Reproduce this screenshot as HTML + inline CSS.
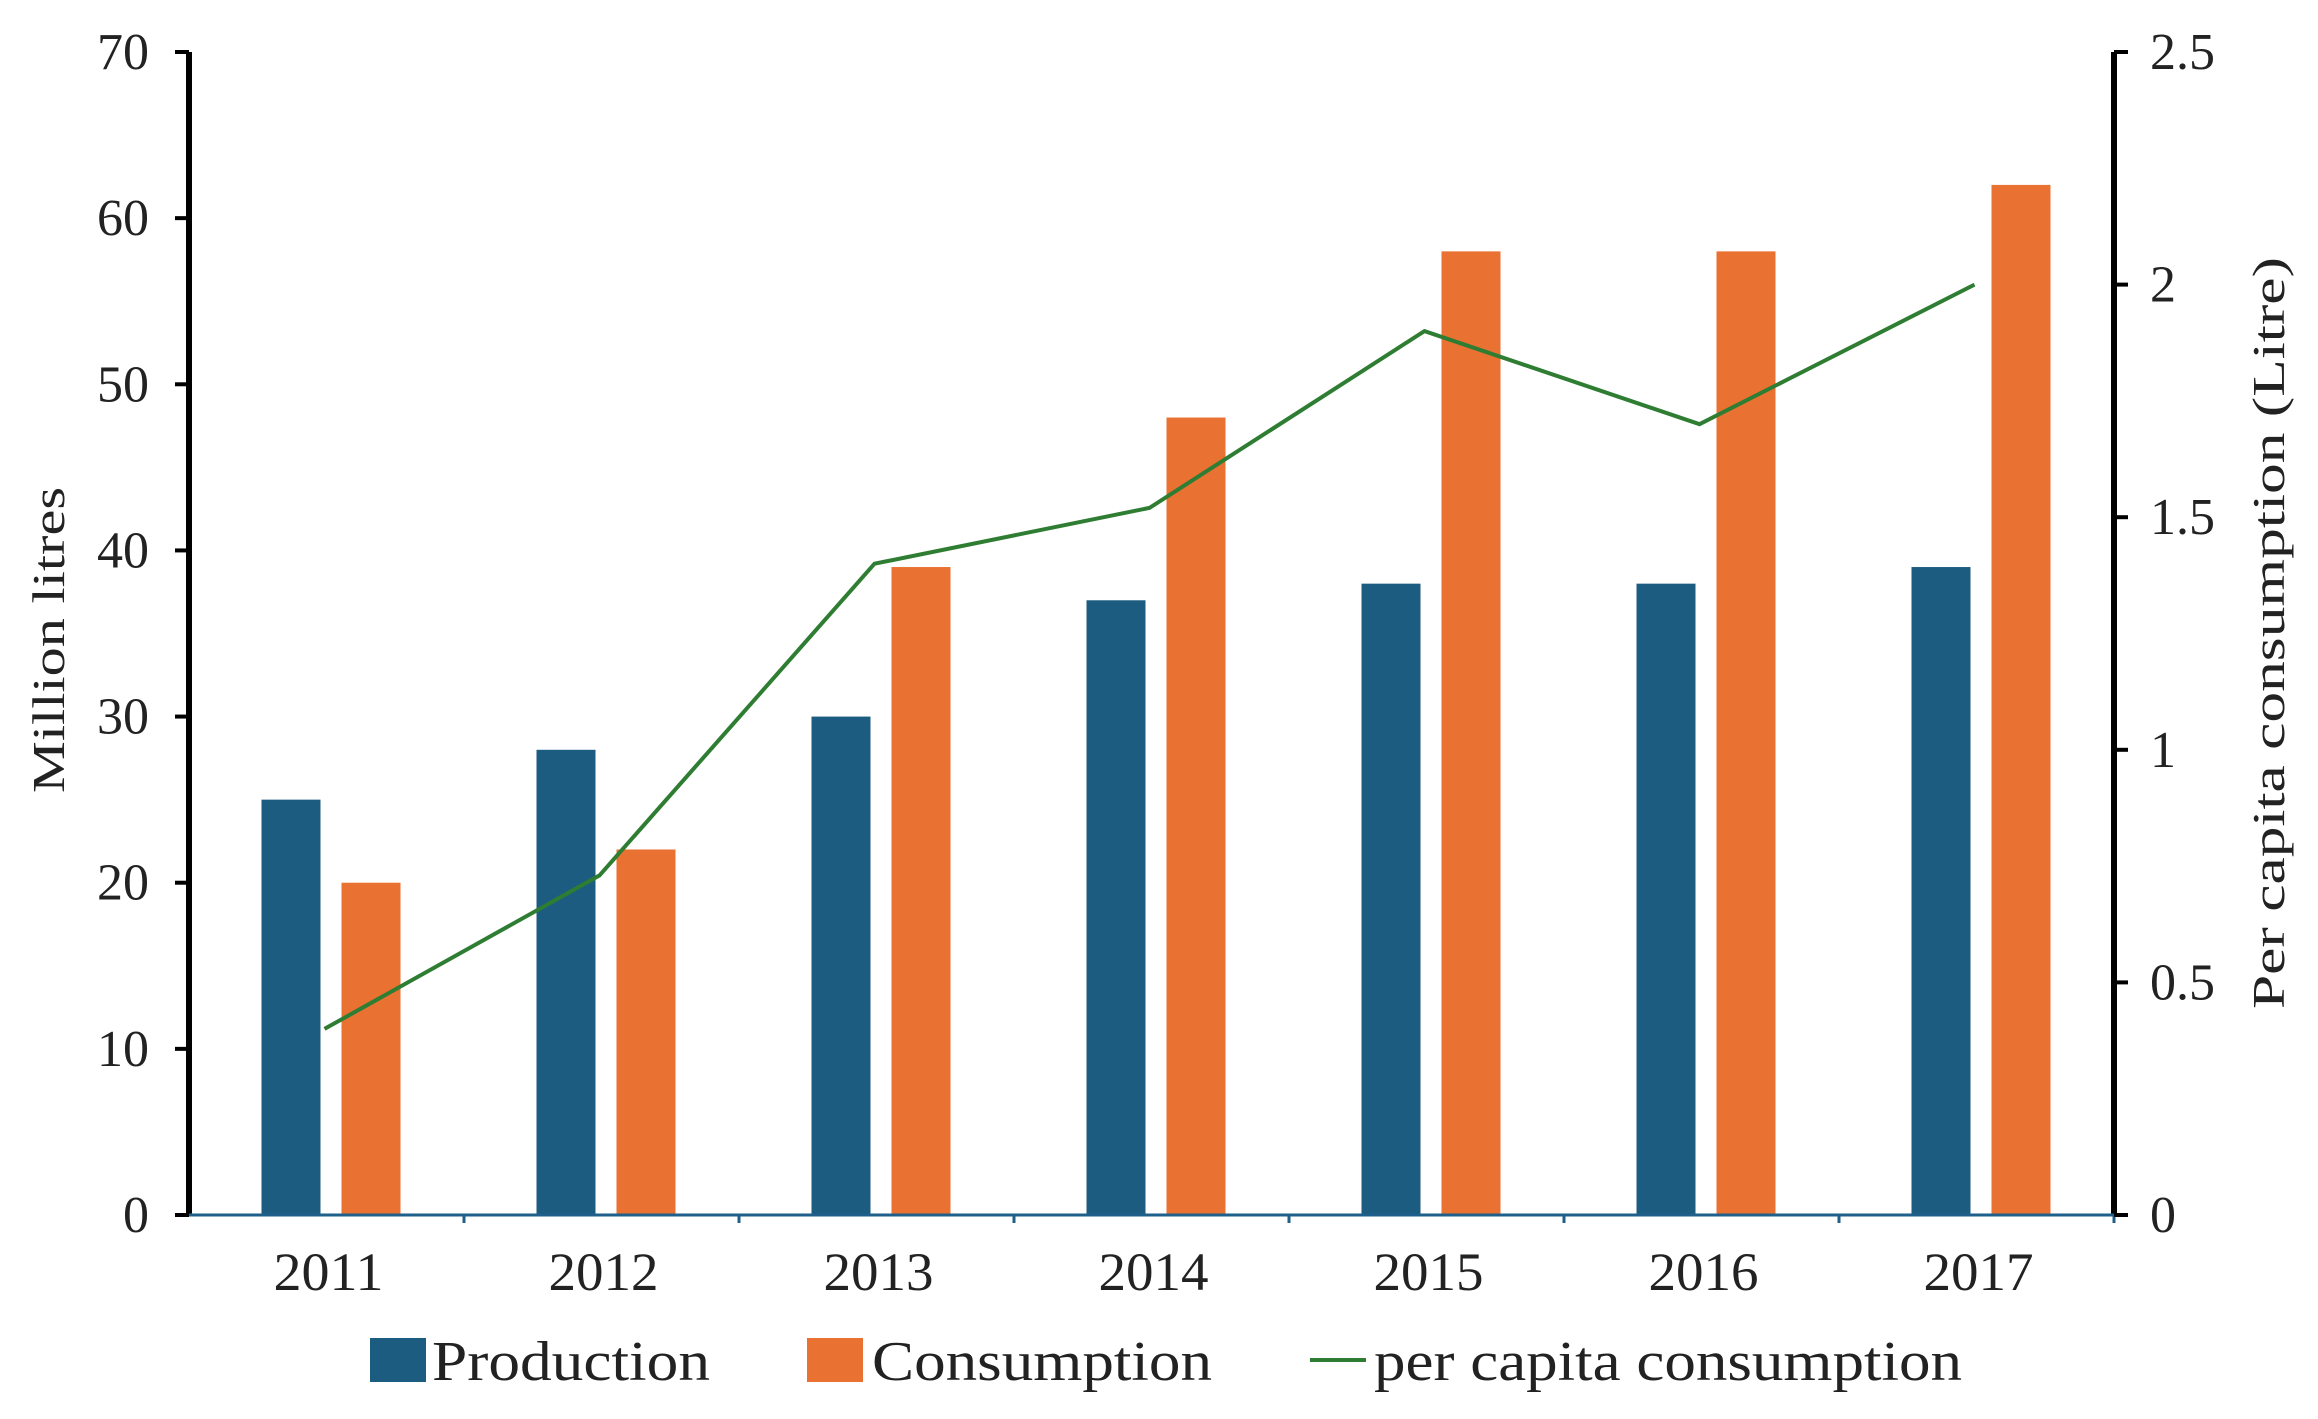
<!DOCTYPE html>
<html><head><meta charset="utf-8"><style>
html,body{margin:0;padding:0;background:#fff}
svg{display:block}
text{font-family:"Liberation Serif",serif;fill:#222}
</style></head><body>
<svg id="chart" width="2318" height="1419" viewBox="0 0 2318 1419" xmlns="http://www.w3.org/2000/svg">
<g id="bars"></g>
<g id="axes"></g>
<g id="line"></g>
<text transform="translate(64,640) rotate(-90)" text-anchor="middle" font-size="46" textLength="306" lengthAdjust="spacingAndGlyphs">Million litres</text>
<text transform="translate(2284,633) rotate(-90)" text-anchor="middle" font-size="46" textLength="752" lengthAdjust="spacingAndGlyphs">Per capita consumption (Litre)</text>
<g>
<rect x="370" y="1338" width="56" height="44" fill="#1c5c80"/>
<text x="432" y="1380" font-size="56" textLength="278" lengthAdjust="spacingAndGlyphs">Production</text>
<rect x="807" y="1338" width="56" height="44" fill="#e97132"/>
<text x="872" y="1380" font-size="56" textLength="340" lengthAdjust="spacingAndGlyphs">Consumption</text>
<line x1="1310" y1="1360" x2="1366" y2="1360" stroke="#2e7d32" stroke-width="4"/>
<text x="1374" y="1380" font-size="56" textLength="588" lengthAdjust="spacingAndGlyphs">per capita consumption</text>
</g>
</svg>
<script>
const categories = ["2011","2012","2013","2014","2015","2016","2017"];
const production = [25,28,30,37,38,38,39];
const consumption = [20,22,39,48,58,58,62];
const perCapita = [0.4,0.73,1.4,1.52,1.9,1.7,2.0];
const yTicks = [0,10,20,30,40,50,60,70];
const y2Ticks = ["0","0.5","1","1.5","2","2.5"];

const NS="http://www.w3.org/2000/svg";
const L=189,R=2114,T=52,B=1215;
const band=(R-L)/categories.length;
const xc=i=>L+band*(i+0.5);
const y=v=>B-(v/70)*(B-T);
const y2=v=>B-(v/2.5)*(B-T);
function mk(tag,attrs,parent){const e=document.createElementNS(NS,tag);for(const k in attrs)e.setAttribute(k,attrs[k]);parent.appendChild(e);return e;}
const bars=document.getElementById('bars'),axes=document.getElementById('axes'),lineG=document.getElementById('line');
categories.forEach((c,i)=>{
  const p=mk('rect',{x:xc(i)-65,y:y(production[i]),width:59,height:B-y(production[i]),fill:'#1c5c80'},bars);
  
  
  const q=mk('rect',{x:xc(i)+15,y:y(consumption[i]),width:59,height:B-y(consumption[i]),fill:'#e97132'},bars);
  
  
  const t=mk('text',{x:xc(i)+2,y:1290,'text-anchor':'middle','font-size':54,textLength:110,lengthAdjust:'spacingAndGlyphs'},axes);
  t.textContent=c;
  
  
  mk('line',{x1:L+band*(i+1),x2:L+band*(i+1),y1:B,y2:B+8,stroke:'#1f5f8b','stroke-width':3},axes);
});
yTicks.forEach(v=>{
  mk('line',{x1:L-14,x2:L,y1:y(v),y2:y(v),stroke:'#000','stroke-width':4},axes);
  const t=mk('text',{x:L-40,y:y(v)+17,'text-anchor':'end','font-size':52},axes);
  t.textContent=v;
  
  
});
y2Ticks.forEach(s=>{
  const v=parseFloat(s);
  mk('line',{x1:R,x2:R+14,y1:y2(v),y2:y2(v),stroke:'#000','stroke-width':4},axes);
  const t=mk('text',{x:R+36,y:y2(v)+17,'text-anchor':'start','font-size':52},axes);
  t.textContent=s;
  
  
});
mk('line',{x1:L,x2:L,y1:T,y2:B,stroke:'#000','stroke-width':6},axes);
mk('line',{x1:R,x2:R,y1:T,y2:B,stroke:'#000','stroke-width':6},axes);
mk('line',{x1:L,x2:R,y1:B,y2:B,stroke:'#1f5f8b','stroke-width':3},axes);
const pts=perCapita.map((v,i)=>(xc(i)-2)+','+y2(v)).join(' ');
const pl=mk('polyline',{points:pts,fill:'none',stroke:'#2e7d32','stroke-width':4},lineG);


</script>
</body></html>
